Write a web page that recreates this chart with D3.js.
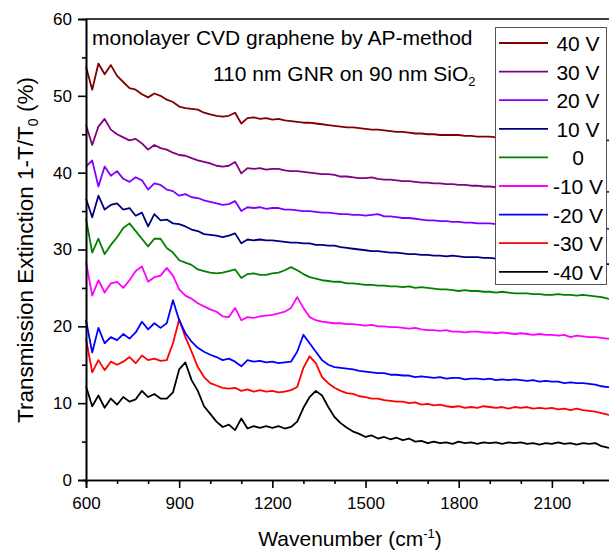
<!DOCTYPE html>
<html>
<head>
<meta charset="utf-8">
<script src="https://cdn.jsdelivr.net/npm/d3@7"></script>
<style>
  body { margin: 0; background: #fff; }
  svg { display: block; font-family: "Liberation Sans", Arial, sans-serif; }
</style>
</head>
<body>
<svg id="chart" width="609" height="551"></svg>
<script>
// wavenumber grid (cm-1)
var wavenumber = [
  600,620,640,660,680,700,720,740,760,780,800,820,840,860,880,900,920,940,960,980,
  1000,1020,1040,1060,1080,1100,1120,1140,1160,1180,1200,1220,1240,1260,1280,1300,1320,1340,1360,1380,
  1400,1420,1440,1460,1480,1500,1520,1540,1560,1580,1600,1620,1640,1660,1680,1700,1720,1740,1760,1780,
  1800,1820,1840,1860,1880,1900,1920,1940,1960,1980,2000,2020,2040,2060,2080,2100,2120,2140,2160,2180,
  2200,2220,2240,2260,2280,2300];

var ext_m40 = [
  12.2,9.6,11.0,9.4,10.6,9.8,10.8,10.2,10.5,11.6,10.8,11.2,10.6,10.6,11.4,14.4,15.3,13.0,11.6,9.6,
  8.6,7.6,6.9,7.2,6.5,8.0,6.7,7.0,6.8,7.0,6.8,7.0,6.7,6.9,7.6,9.4,10.8,11.6,11.0,9.5,
  8.2,7.4,6.8,6.3,6.0,5.6,5.8,5.4,5.6,5.3,5.5,5.2,5.4,5.0,5.1,4.8,5.0,4.8,4.9,4.7,
  5.0,4.8,4.9,4.7,4.9,4.8,4.9,4.7,4.9,4.8,4.9,4.7,4.8,4.6,4.8,4.7,4.9,4.7,4.8,4.6,
  4.8,4.7,4.8,4.4,4.2,4.1];
var ext_m30 = [
  18.4,14.0,15.6,14.3,15.4,15.0,15.4,16.0,15.2,16.2,15.6,15.8,15.5,15.6,17.8,20.9,18.6,16.7,14.7,13.4,
  12.6,12.3,12.0,11.9,12.0,11.6,11.8,11.5,11.7,11.5,11.6,11.4,11.5,11.7,12.1,14.6,16.1,15.2,13.4,12.6,
  12.0,11.6,11.3,11.2,10.9,10.8,10.6,10.6,10.4,10.3,10.2,10.2,10.0,10.1,9.8,9.9,9.7,9.8,9.6,9.5,
  9.6,9.4,9.5,9.4,9.6,9.5,9.4,9.5,9.3,9.5,9.4,9.5,9.3,9.4,9.3,9.4,9.2,9.3,9.1,9.3,
  9.1,9.0,8.9,8.7,8.5,8.4];
var ext_m20 = [
  20.8,16.6,19.8,17.8,18.6,18.2,19.0,18.4,19.2,20.6,19.6,20.4,19.8,20.4,23.4,20.8,19.1,18.0,17.2,16.7,
  16.3,16.0,15.6,15.8,15.4,14.8,15.6,15.4,15.5,15.3,15.4,15.2,15.3,15.4,16.7,18.9,17.8,16.7,15.6,15.0,
  14.7,14.6,14.5,14.4,14.2,14.1,14.0,13.9,13.9,13.7,13.7,13.6,13.6,13.4,13.5,13.4,13.3,13.4,13.2,13.3,
  13.3,13.1,13.2,13.2,13.1,13.2,13.0,13.1,13.0,13.1,13.0,12.9,13.0,12.8,12.9,12.8,12.8,12.6,12.7,12.6,
  12.6,12.5,12.4,12.2,12.1,12.0];
var ext_m10 = [
  28.4,24.0,26.0,24.4,25.6,25.8,25.0,26.0,27.2,27.8,25.8,26.4,26.6,27.6,26.6,24.8,24.0,23.6,23.0,22.6,
  22.2,21.9,21.3,21.2,22.4,20.8,21.2,21.1,21.3,21.4,21.5,21.7,21.9,22.4,23.8,22.4,21.2,20.8,20.6,20.5,
  20.4,20.4,20.3,20.3,20.2,20.1,20.2,20.0,20.0,19.9,19.9,19.8,19.7,19.8,19.6,19.5,19.5,19.4,19.5,19.3,
  19.3,19.2,19.3,19.3,19.2,19.2,19.1,19.2,19.1,19.0,19.1,19.0,18.9,19.0,18.9,18.9,18.8,18.9,18.6,18.8,
  18.7,18.6,18.6,18.5,18.4,18.3];
var ext_0 = [
  34.0,29.6,31.4,29.4,30.6,31.6,32.8,33.4,32.4,31.4,30.4,31.4,31.4,30.2,29.6,28.6,28.3,28.0,27.4,27.2,
  27.0,26.9,27.0,27.2,27.4,26.3,26.8,26.9,26.7,26.7,26.9,27.0,27.3,27.7,27.3,26.8,26.4,26.2,26.0,25.9,
  25.8,25.8,25.6,25.6,25.5,25.4,25.4,25.3,25.3,25.2,25.2,25.1,25.2,25.0,25.1,25.0,24.9,24.8,24.8,24.7,
  24.6,24.7,24.6,24.6,24.5,24.5,24.4,24.5,24.4,24.3,24.3,24.3,24.2,24.2,24.1,24.1,24.2,24.1,24.1,24.0,
  24.1,24.0,23.9,23.8,23.6,23.5];
var ext_p10 = [
  36.6,34.2,37.0,35.2,35.8,36.0,35.2,35.4,34.4,34.8,33.0,34.6,33.8,33.9,33.4,33.3,33.0,32.6,32.4,32.0,
  31.9,31.8,31.6,31.8,32.1,30.8,31.3,31.2,31.3,31.2,31.2,31.1,31.0,30.9,30.9,30.8,30.8,30.6,30.6,30.5,
  30.5,30.3,30.2,30.1,30.0,29.9,29.8,29.8,29.7,29.6,29.6,29.5,29.4,29.4,29.3,29.3,29.2,29.2,29.1,29.2,
  29.1,29.0,29.0,29.0,28.9,28.9,28.8,28.8,28.7,28.7,28.7,28.6,28.6,28.5,28.5,28.5,28.4,28.4,28.4,28.3,
  28.3,28.3,28.2,28.2,28.1,28.0];
var ext_p20 = [
  40.8,41.6,38.2,40.8,39.6,40.2,39.2,38.8,39.4,39.0,37.8,38.6,38.4,37.8,37.6,37.0,37.2,36.8,36.7,36.4,
  36.2,36.0,35.8,35.9,36.3,35.0,35.5,35.4,35.5,35.3,35.4,35.4,35.2,35.2,35.1,35.0,35.0,34.9,34.8,34.8,
  34.7,34.6,34.6,34.5,34.5,34.4,34.5,34.6,34.3,34.3,34.2,34.1,34.1,34.0,33.9,33.8,33.8,33.7,33.7,33.6,
  33.6,33.5,33.5,33.4,33.4,33.4,33.3,33.3,33.2,33.2,33.2,33.1,33.1,33.1,33.0,33.0,33.0,32.9,32.9,32.9,
  32.8,32.8,32.8,32.7,32.7,32.6];
var ext_p30 = [
  46.2,43.6,46.0,47.0,45.6,45.0,44.6,44.2,44.4,43.8,43.0,43.6,43.2,43.0,42.6,42.3,42.2,41.9,41.6,41.4,
  41.2,40.9,40.8,40.9,41.4,39.9,40.6,40.5,40.6,40.4,40.5,40.5,40.3,40.2,40.2,40.1,40.0,39.9,39.8,39.8,
  39.7,39.5,39.5,39.4,39.3,39.3,39.4,39.2,39.1,39.1,39.0,38.9,38.9,38.8,38.7,38.7,38.6,38.6,38.5,38.5,
  38.4,38.4,38.3,38.3,38.2,38.2,38.1,38.1,38.1,38.0,38.0,38.0,37.9,37.9,37.9,37.8,37.8,37.8,37.7,37.7,
  37.7,37.7,37.6,37.6,37.5,37.5];
var ext_p40 = [
  53.8,50.8,54.2,52.8,54.0,52.6,51.8,51.0,50.8,50.2,49.8,50.3,50.0,49.5,49.2,48.6,48.4,48.3,48.2,47.8,
  47.6,47.4,47.3,47.4,47.8,46.4,47.1,47.2,47.0,47.1,46.9,47.0,46.8,46.7,46.6,46.5,46.5,46.4,46.3,46.2,
  46.1,46.0,45.9,45.9,45.8,45.7,45.6,45.6,45.5,45.4,45.3,45.3,45.2,45.1,45.1,45.0,45.0,44.9,44.9,44.9,
  44.9,44.8,44.8,44.7,44.7,44.7,44.6,44.6,44.6,44.6,44.5,44.5,44.5,44.5,44.4,44.4,44.4,44.4,44.4,44.3,
  44.3,44.3,44.3,44.2,44.2,44.2];

var seriesNames = ["40 V", "30 V", "20 V", "10 V", "0", "-10 V", "-20 V", "-30 V", "-40 V"];
var seriesValues = [ext_p40, ext_p30, ext_p20, ext_p10, ext_0, ext_m10, ext_m20, ext_m30, ext_m40];
var seriesColors = ["#800000", "#800080", "#8000ff", "#000080", "#008000", "#ff00ff", "#0000ff", "#ff0000", "#000000"];

var xMajor = [600, 900, 1200, 1500, 1800, 2100];
var xMinor = [700, 800, 1000, 1100, 1300, 1400, 1600, 1700, 1900, 2000, 2200];
var yMajor = [0, 10, 20, 30, 40, 50, 60];
var yMinor = [5, 15, 25, 35, 45, 55];

var svg = d3.select("#chart"),
    margin = {top: 19, left: 86},
    width = 528,
    height = 461,
    g = svg.append("g").attr("transform", "translate(" + margin.left + "," + margin.top + ")");

var x = d3.scaleLinear().domain([600, 2300]).range([0, width]);
var y = d3.scaleLinear().domain([0, 60]).range([height, 0]);

var line = d3.line()
    .x(function(d) { return x(d[0]); })
    .y(function(d) { return y(d[1]); });

// curves, bottom one first
for (var k = seriesValues.length - 1; k >= 0; k--) {
  g.append("path")
      .datum(d3.zip(wavenumber, seriesValues[k]))
      .attr("fill", "none")
      .attr("stroke", seriesColors[k])
      .attr("stroke-width", 1.8)
      .attr("stroke-linejoin", "round")
      .attr("d", line);
}

// axes
function styleAxis(sel) {
  sel.selectAll("path, line").attr("stroke", "#000").attr("stroke-width", 1.6);
  sel.selectAll("text").attr("fill", "#000").style("font-size", "17px")
     .style("font-family", "'Liberation Sans', Arial, sans-serif");
}

g.append("g")
    .attr("transform", "translate(0," + height + ")")
    .call(d3.axisBottom(x).tickValues(xMinor).tickSize(4).tickFormat(""))
    .call(styleAxis);
g.append("g")
    .attr("transform", "translate(0," + height + ")")
    .call(d3.axisBottom(x).tickValues(xMajor).tickSize(8).tickPadding(9).tickFormat(d3.format("d")))
    .call(styleAxis);

g.append("g")
    .call(d3.axisLeft(y).tickValues(yMinor).tickSize(4).tickFormat(""))
    .call(styleAxis);
g.append("g")
    .call(d3.axisLeft(y).tickValues(yMajor).tickSize(8).tickPadding(6).tickFormat(d3.format("d")))
    .call(styleAxis);

// top frame
g.append("line")
    .attr("x1", 0).attr("x2", width)
    .attr("y1", 0).attr("y2", 0)
    .attr("stroke", "#000").attr("stroke-width", 1.6);

// axis titles
var xt = svg.append("text")
    .attr("x", margin.left + width / 2)
    .attr("y", 546)
    .attr("text-anchor", "middle")
    .style("font-size", "21px");
xt.append("tspan").text("Wavenumber (cm");
xt.append("tspan").attr("dy", -8).style("font-size", "13px").text("-1");
xt.append("tspan").attr("dy", 8).text(")");

var yt = svg.append("text")
    .attr("transform", "translate(33,250) rotate(-90)")
    .attr("text-anchor", "middle")
    .style("font-size", "22.5px");
yt.append("tspan").text("Transmission Extinction 1-T/T");
yt.append("tspan").attr("dy", 5).style("font-size", "14px").text("0");
yt.append("tspan").attr("dy", -5).text(" (%)");

// annotations
svg.append("text")
    .attr("x", 92).attr("y", 45)
    .style("font-size", "21px")
    .text("monolayer CVD graphene by AP-method");

var note = svg.append("text")
    .attr("x", 213).attr("y", 81)
    .style("font-size", "21px");
note.append("tspan").text("110 nm GNR on 90 nm SiO");
note.append("tspan").attr("dy", 5).style("font-size", "13px").text("2");

// legend
var legend = svg.append("g");
legend.append("rect")
    .attr("x", 495.5).attr("y", 27.5)
    .attr("width", 111).attr("height", 257)
    .attr("fill", "#fff")
    .attr("stroke", "#555")
    .attr("stroke-width", 1);

var rows = legend.selectAll(".legend")
    .data(seriesNames)
  .enter().append("g")
    .attr("class", "legend")
    .attr("transform", function(d, i) { return "translate(0," + (43 + i * 28.6) + ")"; });

rows.append("line")
    .attr("x1", 499).attr("x2", 548)
    .attr("stroke", function(d, i) { return seriesColors[i]; })
    .attr("stroke-width", 1.8);

rows.append("text")
    .attr("x", 578)
    .attr("y", 8)
    .attr("text-anchor", "middle")
    .style("font-size", "21px")
    .text(function(d) { return d; });
</script>
</body>
</html>
